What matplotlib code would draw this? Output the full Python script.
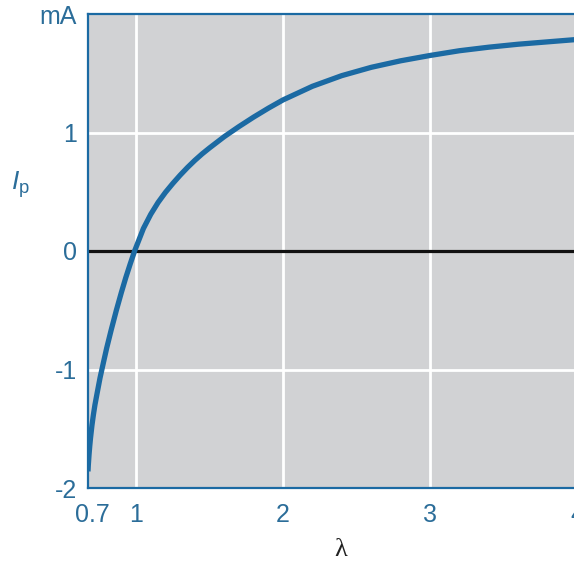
import matplotlib
matplotlib.use("Agg")
import matplotlib.pyplot as plt

plt.rcParams['font.family'] = ['Liberation Sans', 'DejaVu Sans']
plt.rcParams['mathtext.fontset'] = 'custom'
plt.rcParams['mathtext.rm'] = 'Liberation Sans'
plt.rcParams['mathtext.it'] = 'Liberation Sans:italic'

# values
lam = [0.673, 0.675, 0.68, 0.685, 0.69, 0.70, 0.71, 0.72, 0.735, 0.755,
       0.78, 0.80, 0.83, 0.866, 0.90, 0.93, 0.96, 0.99, 1.05, 1.1, 1.15,
       1.2, 1.25, 1.3, 1.35, 1.4, 1.45, 1.5, 1.6, 1.7, 1.8, 1.9, 2.0, 2.2,
       2.4, 2.6, 2.8, 3.0, 3.2, 3.4, 3.6, 3.8, 4.0, 4.1]
ip = [-1.86, -1.81, -1.72, -1.645, -1.58, -1.47, -1.38, -1.30, -1.20, -1.07,
      -0.93, -0.82, -0.67, -0.50, -0.35, -0.225, -0.11, 0.0, 0.19, 0.31, 0.41,
      0.495, 0.57, 0.64, 0.705, 0.765, 0.82, 0.87, 0.965, 1.05, 1.13, 1.205,
      1.275, 1.39, 1.48, 1.55, 1.605, 1.65, 1.69, 1.72, 1.745, 1.765, 1.785,
      1.79]

xticks = [0.7, 1, 2, 3, 4]
xtick_labels = ["0.7", "1", "2", "3", "4"]
yticks = [-2, -1, 0, 1, 2]
ytick_labels = ["-2", "-1", "0", "1", "mA"]

blue = "#1b6aa3"
label_blue = "#2b6d99"
bg = "#d1d2d4"

fig = plt.figure(figsize=(5.74, 5.62), dpi=100)
ax = fig.add_axes([88 / 574, 74 / 562, (591.7 - 88) / 574, 474 / 562])
ax.set_facecolor(bg)

ax.set_xlim(0.673, 4.1)
ax.set_ylim(-2, 2)

for x in [1, 2, 3, 4]:
    ax.axvline(x, color="white", lw=2.0, zorder=1)
for y in [-1, 1]:
    ax.axhline(y, color="white", lw=2.0, zorder=1)
ax.axhline(0, color="#111111", lw=2.3, zorder=2)

ax.plot(lam, ip, color=blue, lw=3.8, solid_capstyle="butt",
        solid_joinstyle="round", zorder=3)

ax.set_xticks(xticks)
ax.set_xticklabels(xtick_labels)
ax.set_yticks(yticks)
ax.set_yticklabels(ytick_labels)
ax.tick_params(length=0, labelsize=18, labelcolor=label_blue)
ax.tick_params(axis="x", pad=11)
ax.tick_params(axis="y", pad=8)

for s in ax.spines.values():
    s.set_color(blue)
    s.set_linewidth(1.6)

fig.text(20 / 574, 1 - 185 / 562, r"$I_{\mathrm{p}}$", color=label_blue,
         fontsize=19, ha="center", va="center")
fig.text(341 / 574, 1 - 550 / 562, "λ", family="Liberation Serif",
         color="#222222", fontsize=19, ha="center", va="center")

fig.savefig("out.png", dpi=100)
